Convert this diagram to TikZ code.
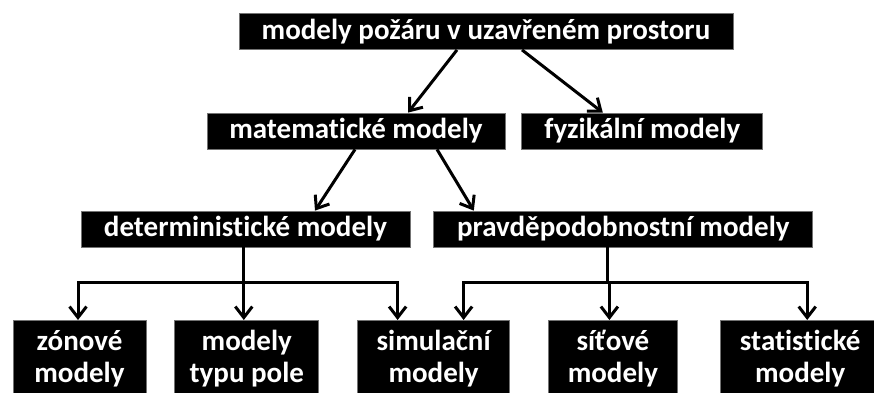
\documentclass[tikz,border=0pt]{standalone}
\usepackage{fontspec}
\setmainfont{Carlito}[Ligatures=NoCommon]
\usetikzlibrary{arrows.meta,positioning}

\begin{document}
\begin{tikzpicture}[
    x=1pt, y=-1pt,
    node distance=16pt,
    modelbox/.style={
      rectangle, fill=black, draw=black!55, line width=0.8pt,
      text=white, font=\fontsize{29}{32}\selectfont\bfseries,
      minimum height=36pt, inner sep=0pt, align=center
    },
    leafbox/.style={
      modelbox, minimum height=76pt
    },
    edge_arrow/.style={
      -{Straight Barb[length=11pt,width=17pt]}, line width=3pt
    },
    edge_line/.style={
      line width=3pt
    }
  ]
  \clip (0,0) rectangle (874,392);

  % --- top level ---
  \node[modelbox, minimum width=494pt] (fire) at (486,31.5)
    {modely požáru v uzavřeném prostoru};

  % --- second level ---
  \node[modelbox, minimum width=298pt] (math) at (356,131) {matematické modely};
  \node[modelbox, minimum width=241pt, right=16pt of math] (phys) {fyzikální modely};

  \draw[edge_arrow] ([xshift=-29pt]fire.south) -- ([xshift=52pt]math.north);
  \draw[edge_arrow] ([xshift=36pt]fire.south) -- ([xshift=-39.5pt]phys.north);

  % --- third level ---
  \node[modelbox, minimum width=329pt] (det) at (245.5,229) {deterministické modely};
  \node[modelbox, minimum width=379pt, right=23pt of det] (prob) {pravděpodobnostní modely};

  \draw[edge_arrow] ([xshift=-1pt]math.south) -- ([xshift=69.5pt]det.north);
  \draw[edge_arrow] ([xshift=81pt]math.south) -- ([xshift=-149.5pt]prob.north);

  % --- leaves ---
  \node[leafbox, minimum width=133pt, anchor=north] (zone) at (79.5,320) {zónové\\modely};
  \node[leafbox, minimum width=144pt, right=28pt of zone] (field) {modely\\typu pole};
  \node[leafbox, minimum width=152pt, right=38pt of field] (sim) {simulační\\modely};
  \node[leafbox, minimum width=129pt, right=38pt of sim] (net) {síťové\\modely};
  \node[leafbox, minimum width=160pt, right=42pt of net] (stat) {statistické\\modely};

  \coordinate (zoneIn) at ([xshift=-1.5pt]zone.north);
  \coordinate (fieldIn) at ([xshift=-3pt]field.north);
  \coordinate (simInL) at ([xshift=-36pt]sim.north);
  \coordinate (simInR) at ([xshift=30pt]sim.north);
  \coordinate (netIn) at ([xshift=-3.5pt]net.north);
  \coordinate (statIn) at ([xshift=7pt]stat.north);

  % deterministic branch
  \draw[edge_line] ([xshift=-2.5pt]det.south) -- ++(0,35) coordinate (detJoin);
  \foreach \t in {zoneIn, fieldIn, simInL}
    \draw[edge_arrow] (detJoin) -| (\t);

  % probabilistic branch
  \draw[edge_line] ([xshift=-15.5pt]prob.south) -- ++(0,35) coordinate (probJoin);
  \foreach \t in {simInR, netIn, statIn}
    \draw[edge_arrow] (probJoin) -| (\t);
\end{tikzpicture}
\end{document}
